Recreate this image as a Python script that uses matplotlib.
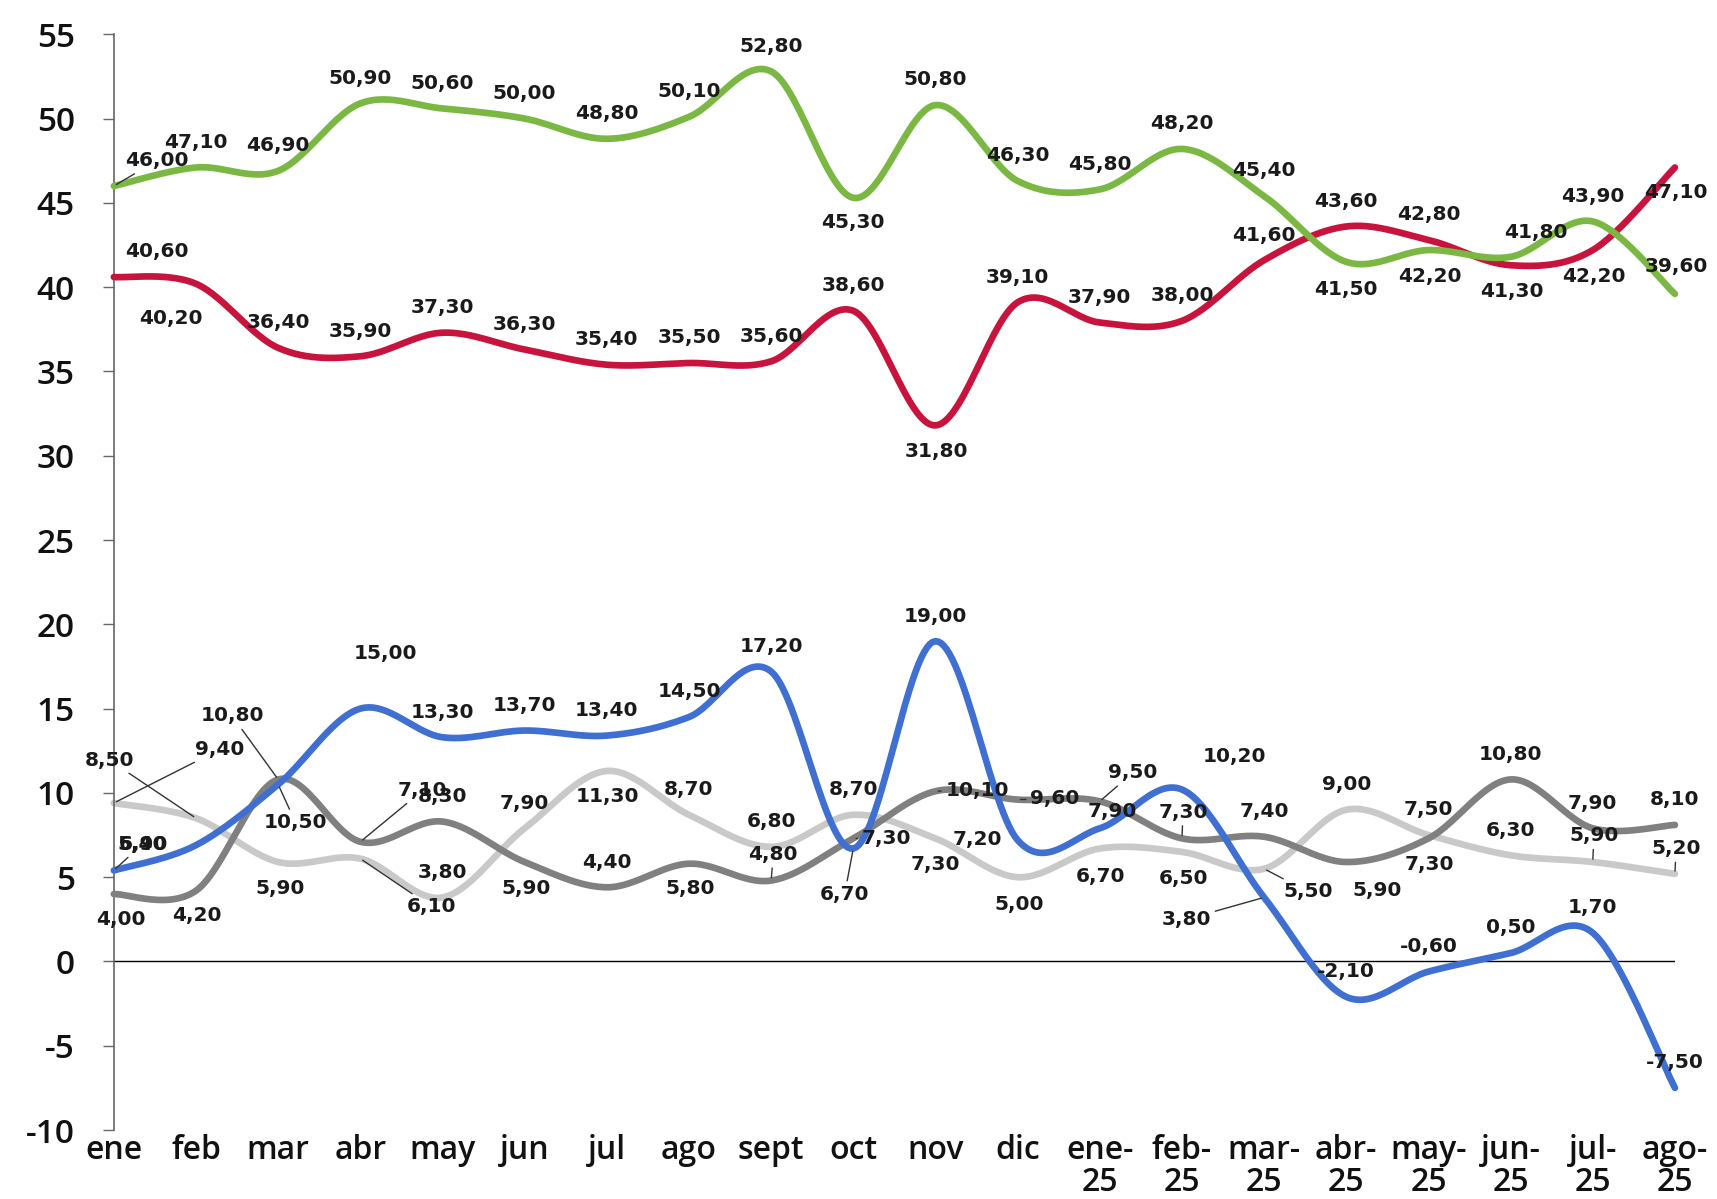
import numpy as np
import matplotlib.pyplot as plt

plt.rcParams['font.family'] = ['DejaVu Sans']
plt.rcParams['axes.unicode_minus'] = False

months = ["ene", "feb", "mar", "abr", "may", "jun", "jul", "ago", "sept", "oct",
          "nov", "dic", "ene-\n25", "feb-\n25", "mar-\n25", "abr-\n25", "may-\n25",
          "jun-\n25", "jul-\n25", "ago-\n25"]

green = [46.0, 47.1, 46.9, 50.9, 50.6, 50.0, 48.8, 50.1, 52.8, 45.3,
         50.8, 46.3, 45.8, 48.2, 45.4, 41.5, 42.2, 41.8, 43.9, 39.6]
red = [40.6, 40.2, 36.4, 35.9, 37.3, 36.3, 35.4, 35.5, 35.6, 38.6,
       31.8, 39.1, 37.9, 38.0, 41.6, 43.6, 42.8, 41.3, 42.2, 47.1]
blue = [5.4, 6.9, 10.5, 15.0, 13.3, 13.7, 13.4, 14.5, 17.2, 6.7,
        19.0, 7.2, 7.9, 10.2, 3.8, -2.1, -0.6, 0.5, 1.7, -7.5]
dark = [4.0, 4.2, 10.8, 7.1, 8.3, 5.9, 4.4, 5.8, 4.8, 7.3,
        10.1, 9.6, 9.5, 7.3, 7.4, 5.9, 7.3, 10.8, 7.9, 8.1]
light = [9.4, 8.5, 5.9, 6.1, 3.8, 7.9, 11.3, 8.7, 6.8, 8.7,
         7.3, 5.0, 6.7, 6.5, 5.5, 9.0, 7.5, 6.3, 5.9, 5.2]

# label placement: offsets in reference pixels (dx right, dy down), last = leader line
ABOVE = (0, -23)
green_lab = {0: (39, -23, 1), 9: (0, 23, 0), 15: (0, 25, 0), 16: (1, 24, 0),
             17: (23, -22, 0), 19: (1, -25, 0)}
red_lab = {0: (39, -23, 0), 1: (-23, 32, 0), 10: (1, 24, 0), 17: (1, 24, 0),
           18: (1, 24, 0), 19: (1, 23, 0)}
blue_lab = {0: (26, -24, 1), 1: (-48, -1, 0), 2: (16, 35, 1), 3: (23, -50, 0),
            9: (-8, 42, 1), 11: (-37, -1, 0), 12: (11, -15, 0), 13: (48, -30, 0),
            14: (-71, 20, 1)}
dark_lab = {0: (6, 23, 0), 1: (1, 23, 0), 2: (-42, -58, 1), 3: (57, -47, 1),
            5: (1, 24, 0), 7: (1, 23, 0), 8: (2, -24, 1), 9: (30, 0, 1),
            10: (38, -1, 1), 11: (34, -1, 1), 12: (30, -26, 1), 13: (1, -24, 1),
            15: (28, 26, 0), 16: (1, 24, 0)}
light_lab = {0: (97, -49, 1), 1: (-79, -53, 1), 2: (2, 24, 0), 3: (65, 44, 1),
             6: (1, 23, 0), 10: (0, 24, 0), 11: (1, 25, 0), 12: (1, 26, 0),
             13: (1, 24, 0), 14: (40, 21, 1), 18: (1, -24, 1), 19: (1, -23, 1)}

K = 0.788  # reference px -> points


def smooth(y, n=30):
    # bezier smoothing through every point (like a spreadsheet "smoothed line")
    x = np.arange(len(y), dtype=float)
    y = np.asarray(y, dtype=float)
    px = np.concatenate([[x[0]], x, [x[-1]]])
    py = np.concatenate([[y[0]], y, [y[-1]]])
    xs, ys = [], []
    t = np.linspace(0, 1, n)
    for i in range(len(y) - 1):
        p0 = np.array([px[i + 1], py[i + 1]])
        p3 = np.array([px[i + 2], py[i + 2]])
        p1 = p0 + (np.array([px[i + 2], py[i + 2]]) - np.array([px[i], py[i]])) / 6
        p2 = p3 - (np.array([px[i + 3], py[i + 3]]) - np.array([px[i + 1], py[i + 1]])) / 6
        b = ((1 - t) ** 3)[:, None] * p0 + (3 * (1 - t) ** 2 * t)[:, None] * p1 \
            + (3 * (1 - t) * t ** 2)[:, None] * p2 + (t ** 3)[:, None] * p3
        xs.append(b[:, 0])
        ys.append(b[:, 1])
    return np.concatenate(xs), np.concatenate(ys)


fig = plt.figure(figsize=(17.17, 11.99), dpi=100)
ax = fig.add_axes([0.0663, 0.0575, 0.9092, 0.9139])

series = [
    (light, "#c9c9c9", light_lab, 2),
    (dark, "#808080", dark_lab, 3),
    (blue, "#3f6fd0", blue_lab, 4),
    (red, "#c8133d", red_lab, 5),
    (green, "#7bb843", green_lab, 6),
]

for vals, color, labs, z in series:
    sx, sy = smooth(vals)
    ax.plot(sx, sy, color=color, lw=4.8, solid_capstyle="round", zorder=z, clip_on=False)
    for i, v in enumerate(vals):
        dx, dy, lead = labs.get(i, ABOVE + (0,))
        arrow = dict(arrowstyle="-", color="#333333", lw=1, shrinkA=1, shrinkB=2) if lead else None
        ax.annotate(f"{v:.2f}".replace(".", ","), xy=(i, v),
                    xytext=(dx * K, -dy * K), textcoords="offset points",
                    ha="center", va="center", fontsize=14.5, fontweight="bold",
                    color="#1a1a1a", arrowprops=arrow, zorder=10)

ax.axhline(0, color="black", lw=1, zorder=1)
ax.set_xlim(0, 19)
ax.set_ylim(-10, 55)
ax.set_yticks(range(-10, 60, 5))
ax.set_xticks(range(len(months)))
ax.set_xticklabels(months, linespacing=0.95)
for s in ["top", "right", "bottom"]:
    ax.spines[s].set_visible(False)
ax.spines["left"].set_color("#666666")
ax.spines["left"].set_linewidth(1.2)
ax.tick_params(axis="y", length=8, width=1, color="#666666", labelsize=24, pad=20)
ax.tick_params(axis="x", length=0, labelsize=23, pad=3)
for lab in ax.get_xticklabels() + ax.get_yticklabels():
    lab.set_fontfamily(["Open Sans", "DejaVu Sans"])
    lab.set_fontweight("semibold")
    lab.set_color("#111111")
ax.patch.set_alpha(0)

fig.savefig("out.png", dpi=100)
